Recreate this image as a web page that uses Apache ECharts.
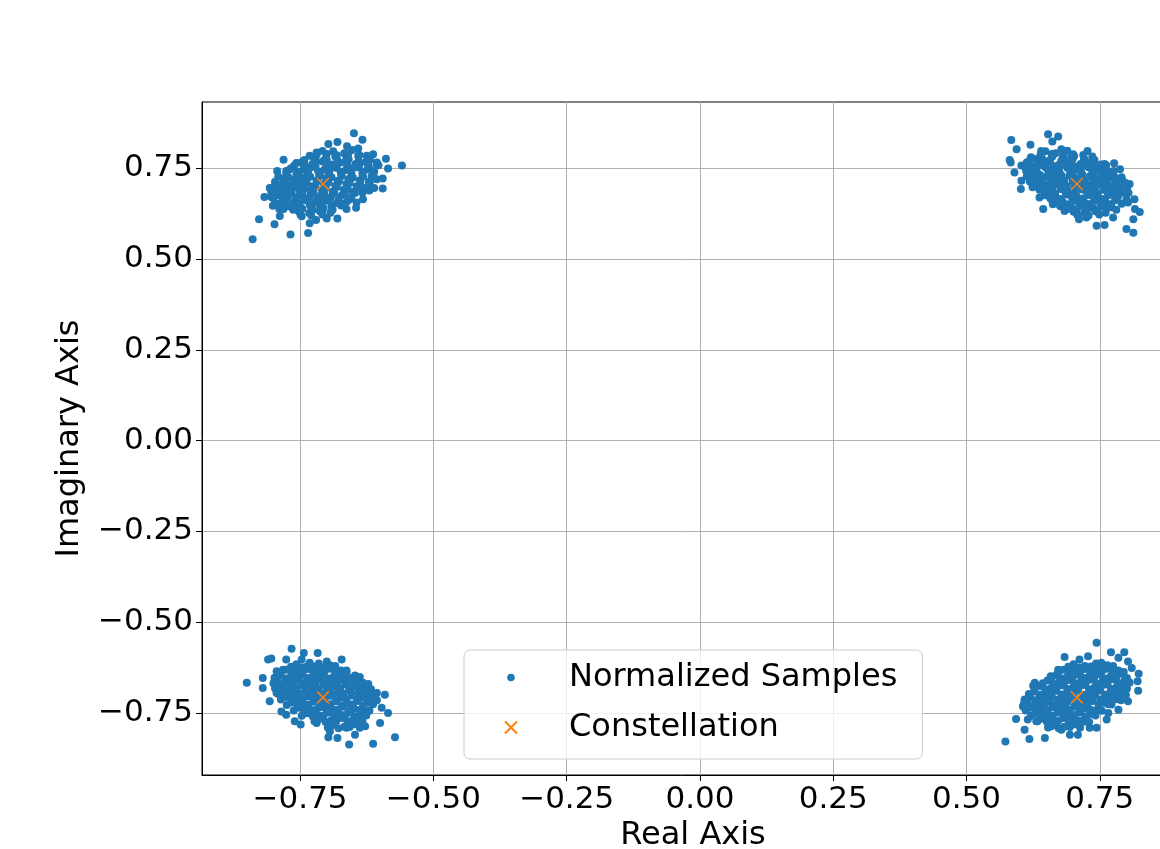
<!DOCTYPE html>
<html>
<head>
<meta charset="utf-8">
<script src="https://cdn.jsdelivr.net/npm/echarts@6/dist/echarts.min.js"></script>
<style>
  html, body { margin: 0; padding: 0; background: #fff; }
  #chart { width: 1160px; height: 849px; }
</style>
</head>
<body>
<div id="chart"></div>
<script>
// ideal QPSK points
const constellation = [[-0.7071, 0.7071], [0.7071, 0.7071], [-0.7071, -0.7071], [0.7071, -0.7071]];

// received samples (outer points first, then the dense core)
const topLeftSamples = [
  [-0.839,0.555],[-0.827,0.610],[-0.798,0.596],[-0.768,0.568],[-0.735,0.572],[-0.817,0.671],[-0.804,0.671],
  [-0.807,0.696],[-0.793,0.743],[-0.781,0.774],[-0.757,0.765],[-0.743,0.770],[-0.719,0.794],[-0.708,0.798],
  [-0.697,0.817],[-0.680,0.823],[-0.662,0.811],[-0.649,0.847],[-0.633,0.829],[-0.641,0.805],[-0.625,0.785],
  [-0.613,0.789],[-0.589,0.777],[-0.585,0.750],[-0.559,0.758],[-0.595,0.722],[-0.595,0.695],[-0.611,0.696],
  [-0.620,0.689],[-0.644,0.656],[-0.645,0.642],[-0.680,0.612],[-0.700,0.612],[-0.720,0.608],[-0.732,0.599],
  [-0.747,0.618],[-0.788,0.619],[-0.789,0.638],[-0.782,0.656],[-0.801,0.647],[-0.779,0.707],[-0.769,0.748],
  [-0.732,0.785],[-0.606,0.766],[-0.606,0.720],[-0.632,0.665],[-0.663,0.638],[-0.757,0.638],
  [-0.688,0.797],[-0.667,0.792],[-0.652,0.801],
  [-0.724,0.781],[-0.703,0.776],[-0.684,0.783],[-0.663,0.779],[-0.641,0.784],[-0.622,0.776],
  [-0.748,0.766],[-0.727,0.762],[-0.708,0.769],[-0.689,0.761],[-0.668,0.766],[-0.646,0.762],[-0.627,0.768],[-0.606,0.761],
  [-0.766,0.751],[-0.744,0.748],[-0.726,0.754],[-0.704,0.747],[-0.683,0.752],[-0.664,0.746],[-0.643,0.753],[-0.624,0.747],[-0.611,0.741],
  [-0.776,0.736],[-0.757,0.733],[-0.736,0.738],[-0.714,0.731],[-0.696,0.737],[-0.673,0.733],[-0.654,0.739],[-0.633,0.732],[-0.616,0.728],
  [-0.781,0.721],[-0.762,0.718],[-0.741,0.724],[-0.719,0.717],[-0.701,0.722],[-0.679,0.716],[-0.659,0.721],[-0.638,0.717],[-0.621,0.713],
  [-0.787,0.706],[-0.766,0.703],[-0.746,0.708],[-0.727,0.701],[-0.706,0.707],[-0.684,0.702],[-0.663,0.708],[-0.644,0.701],[-0.627,0.697],
  [-0.791,0.691],[-0.771,0.688],[-0.752,0.693],[-0.731,0.687],[-0.709,0.692],[-0.689,0.686],[-0.668,0.691],[-0.651,0.685],[-0.633,0.683],
  [-0.792,0.676],[-0.773,0.672],[-0.751,0.677],[-0.732,0.671],[-0.711,0.676],[-0.692,0.671],[-0.671,0.677],[-0.654,0.669],
  [-0.783,0.661],[-0.762,0.657],[-0.742,0.662],[-0.721,0.656],[-0.702,0.661],[-0.681,0.655],[-0.662,0.659],
  [-0.771,0.646],[-0.751,0.642],[-0.731,0.647],[-0.712,0.641],[-0.691,0.645],[-0.673,0.648],
  [-0.752,0.631],[-0.733,0.627],[-0.713,0.632],[-0.693,0.628],
  [-0.719,0.788],[-0.700,0.790],[-0.681,0.786],[-0.660,0.789],[-0.639,0.787],
  [-0.742,0.773],[-0.721,0.771],[-0.700,0.774],[-0.680,0.772],[-0.659,0.775],[-0.640,0.771],[-0.619,0.773],
  [-0.761,0.758],[-0.740,0.756],[-0.721,0.759],[-0.700,0.757],[-0.680,0.760],[-0.660,0.756],[-0.639,0.758],[-0.621,0.755],[-0.603,0.759],
  [-0.776,0.743],[-0.755,0.741],[-0.735,0.744],[-0.716,0.742],[-0.695,0.745],[-0.674,0.741],[-0.654,0.744],[-0.633,0.740],[-0.612,0.743],
  [-0.791,0.728],[-0.772,0.726],[-0.751,0.729],[-0.731,0.727],[-0.712,0.730],[-0.691,0.726],[-0.672,0.729],[-0.651,0.725],[-0.632,0.728],[-0.613,0.726],
  [-0.797,0.713],[-0.777,0.711],[-0.757,0.714],[-0.738,0.712],[-0.718,0.715],[-0.697,0.711],[-0.677,0.714],[-0.657,0.710],[-0.637,0.713],[-0.619,0.711],
  [-0.801,0.698],[-0.782,0.696],[-0.761,0.699],[-0.742,0.697],[-0.722,0.700],[-0.702,0.696],[-0.681,0.699],[-0.661,0.695],[-0.641,0.698],[-0.624,0.694],
  [-0.804,0.683],[-0.785,0.681],[-0.766,0.684],[-0.746,0.682],[-0.725,0.685],[-0.705,0.681],[-0.686,0.684],[-0.666,0.680],[-0.647,0.682],
  [-0.800,0.668],[-0.779,0.666],[-0.758,0.669],[-0.739,0.667],[-0.718,0.670],[-0.698,0.666],[-0.677,0.669],[-0.657,0.665],
  [-0.791,0.653],[-0.771,0.651],[-0.751,0.654],[-0.732,0.652],[-0.711,0.655],[-0.691,0.651],[-0.672,0.653],
  [-0.781,0.638],[-0.763,0.636],[-0.746,0.639],[-0.726,0.637],[-0.706,0.640],[-0.689,0.636],
  [-0.749,0.622],[-0.729,0.620],[-0.708,0.623]
];

const topRightSamples = [
  [0.584,0.828],[0.594,0.803],[0.620,0.815],[0.653,0.844],[0.672,0.838],[0.661,0.824],[0.581,0.773],
  [0.583,0.766],[0.590,0.739],[0.603,0.716],[0.602,0.693],[0.622,0.730],[0.615,0.762],[0.631,0.776],
  [0.644,0.638],[0.637,0.670],[0.662,0.651],[0.684,0.633],[0.711,0.610],[0.727,0.798],[0.736,0.783],
  [0.744,0.592],[0.759,0.594],[0.777,0.764],[0.788,0.748],[0.791,0.720],[0.806,0.707],[0.800,0.688],
  [0.815,0.665],[0.816,0.638],[0.825,0.630],[0.813,0.610],[0.800,0.583],[0.813,0.573],[0.775,0.615],
  [0.725,0.615],[0.697,0.642],[0.640,0.798],[0.678,0.803],[0.697,0.785],[0.759,0.762],[0.803,0.656],
  [0.648,0.797],[0.667,0.792],[0.689,0.799],
  [0.621,0.781],[0.642,0.777],[0.661,0.783],[0.683,0.778],[0.702,0.784],[0.721,0.776],
  [0.613,0.766],[0.634,0.762],[0.652,0.768],[0.674,0.761],[0.693,0.767],[0.714,0.762],[0.733,0.768],[0.752,0.761],
  [0.611,0.751],[0.628,0.747],[0.648,0.753],[0.667,0.746],[0.689,0.752],[0.708,0.747],[0.729,0.753],[0.747,0.746],[0.766,0.742],
  [0.619,0.736],[0.638,0.732],[0.659,0.738],[0.678,0.731],[0.699,0.737],[0.718,0.732],[0.739,0.738],[0.758,0.731],[0.777,0.728],
  [0.624,0.721],[0.643,0.717],[0.664,0.723],[0.683,0.716],[0.704,0.722],[0.723,0.717],[0.744,0.721],[0.763,0.716],[0.782,0.712],
  [0.629,0.706],[0.648,0.702],[0.669,0.708],[0.688,0.701],[0.709,0.707],[0.728,0.702],[0.749,0.706],[0.768,0.701],[0.787,0.698],
  [0.637,0.691],[0.656,0.687],[0.677,0.693],[0.696,0.686],[0.717,0.692],[0.736,0.687],[0.757,0.691],[0.776,0.686],[0.793,0.683],
  [0.648,0.676],[0.667,0.672],[0.688,0.678],[0.707,0.671],[0.728,0.677],[0.747,0.672],[0.766,0.676],[0.784,0.671],
  [0.661,0.661],[0.681,0.657],[0.702,0.662],[0.721,0.656],[0.742,0.661],[0.761,0.657],[0.779,0.662],
  [0.676,0.646],[0.697,0.642],[0.716,0.647],[0.737,0.641],[0.756,0.646],[0.772,0.643],
  [0.701,0.631],[0.721,0.627],[0.742,0.632],[0.761,0.628],
  [0.639,0.788],[0.660,0.790],[0.681,0.786],[0.700,0.789],[0.719,0.787],
  [0.619,0.773],[0.638,0.771],[0.657,0.774],[0.678,0.772],[0.699,0.775],[0.720,0.771],[0.740,0.773],
  [0.603,0.758],[0.623,0.756],[0.642,0.759],[0.663,0.757],[0.683,0.760],[0.702,0.756],[0.723,0.758],[0.743,0.755],[0.762,0.759],
  [0.612,0.743],[0.632,0.741],[0.653,0.744],[0.674,0.742],[0.694,0.745],[0.715,0.741],[0.736,0.744],[0.755,0.740],[0.776,0.743],
  [0.613,0.728],[0.632,0.726],[0.652,0.729],[0.672,0.727],[0.693,0.730],[0.713,0.726],[0.732,0.729],[0.752,0.725],[0.772,0.728],[0.791,0.726],
  [0.619,0.713],[0.638,0.711],[0.658,0.714],[0.678,0.712],[0.699,0.715],[0.718,0.711],[0.738,0.714],[0.758,0.710],[0.778,0.713],[0.797,0.711],
  [0.624,0.698],[0.643,0.696],[0.662,0.699],[0.682,0.697],[0.703,0.700],[0.723,0.696],[0.742,0.699],[0.762,0.695],[0.782,0.698],[0.801,0.694],
  [0.647,0.683],[0.666,0.681],[0.686,0.684],[0.705,0.682],[0.726,0.685],[0.746,0.681],[0.765,0.684],[0.785,0.680],[0.804,0.682],
  [0.657,0.668],[0.677,0.666],[0.698,0.669],[0.718,0.667],[0.739,0.670],[0.758,0.666],[0.779,0.669],[0.800,0.665],
  [0.672,0.653],[0.692,0.651],[0.711,0.654],[0.732,0.652],[0.751,0.655],[0.771,0.651],[0.791,0.653],
  [0.689,0.638],[0.707,0.636],[0.726,0.639],[0.746,0.637],[0.763,0.640],[0.781,0.636],
  [0.708,0.622],[0.729,0.620],[0.749,0.623]
];

const bottomLeftSamples = [
  [-0.850,-0.667],[-0.820,-0.681],[-0.807,-0.718],[-0.794,-0.695],[-0.804,-0.600],[-0.810,-0.603],[-0.766,-0.573],
  [-0.776,-0.603],[-0.743,-0.585],[-0.747,-0.603],[-0.717,-0.585],[-0.700,-0.608],[-0.672,-0.603],[-0.685,-0.626],
  [-0.663,-0.633],[-0.647,-0.655],[-0.628,-0.681],[-0.606,-0.695],[-0.591,-0.700],[-0.597,-0.736],[-0.585,-0.750],
  [-0.600,-0.778],[-0.628,-0.787],[-0.647,-0.810],[-0.572,-0.817],[-0.613,-0.835],[-0.658,-0.837],[-0.680,-0.819],
  [-0.697,-0.817],[-0.694,-0.801],[-0.719,-0.778],[-0.749,-0.782],[-0.760,-0.773],[-0.776,-0.755],[-0.785,-0.746],
  [-0.820,-0.654],[-0.794,-0.635],[-0.782,-0.631],[-0.732,-0.612],[-0.619,-0.718],[-0.632,-0.759],[-0.663,-0.791],
  [-0.757,-0.616],[-0.736,-0.621],[-0.715,-0.614],[-0.694,-0.619],
  [-0.776,-0.631],[-0.755,-0.636],[-0.735,-0.629],[-0.714,-0.634],[-0.694,-0.628],[-0.673,-0.633],
  [-0.789,-0.646],[-0.768,-0.651],[-0.748,-0.644],[-0.727,-0.649],[-0.707,-0.643],[-0.686,-0.648],[-0.666,-0.642],[-0.647,-0.647],
  [-0.793,-0.661],[-0.772,-0.666],[-0.752,-0.659],[-0.731,-0.664],[-0.711,-0.658],[-0.690,-0.663],[-0.670,-0.657],[-0.651,-0.662],[-0.632,-0.667],
  [-0.788,-0.676],[-0.767,-0.681],[-0.747,-0.674],[-0.726,-0.679],[-0.706,-0.673],[-0.685,-0.678],[-0.665,-0.672],[-0.646,-0.677],[-0.627,-0.683],
  [-0.781,-0.691],[-0.760,-0.696],[-0.740,-0.689],[-0.719,-0.694],[-0.699,-0.688],[-0.678,-0.693],[-0.658,-0.687],[-0.639,-0.692],[-0.620,-0.697],
  [-0.776,-0.706],[-0.755,-0.711],[-0.735,-0.704],[-0.714,-0.709],[-0.694,-0.703],[-0.673,-0.708],[-0.653,-0.702],[-0.634,-0.707],[-0.615,-0.712],
  [-0.765,-0.721],[-0.744,-0.726],[-0.724,-0.719],[-0.703,-0.724],[-0.683,-0.718],[-0.662,-0.723],[-0.642,-0.717],[-0.623,-0.722],
  [-0.752,-0.736],[-0.731,-0.741],[-0.711,-0.734],[-0.690,-0.739],[-0.670,-0.733],[-0.649,-0.738],[-0.629,-0.743],
  [-0.737,-0.751],[-0.716,-0.756],[-0.696,-0.749],[-0.675,-0.754],[-0.655,-0.748],[-0.636,-0.753],
  [-0.713,-0.766],[-0.692,-0.771],[-0.672,-0.764],[-0.651,-0.769],[-0.633,-0.774],
  [-0.688,-0.783],[-0.667,-0.788],[-0.648,-0.781],
  [-0.767,-0.623],[-0.746,-0.625],[-0.725,-0.622],[-0.704,-0.624],[-0.684,-0.621],
  [-0.786,-0.638],[-0.765,-0.640],[-0.745,-0.637],[-0.724,-0.639],[-0.704,-0.636],[-0.684,-0.640],[-0.663,-0.638],
  [-0.798,-0.653],[-0.778,-0.655],[-0.758,-0.652],[-0.737,-0.654],[-0.717,-0.651],[-0.697,-0.655],[-0.676,-0.652],[-0.657,-0.654],[-0.638,-0.651],
  [-0.800,-0.668],[-0.781,-0.670],[-0.762,-0.667],[-0.741,-0.669],[-0.721,-0.666],[-0.700,-0.670],[-0.680,-0.667],[-0.661,-0.669],[-0.641,-0.666],[-0.622,-0.670],
  [-0.797,-0.683],[-0.777,-0.685],[-0.757,-0.682],[-0.736,-0.684],[-0.716,-0.681],[-0.695,-0.685],[-0.675,-0.682],[-0.656,-0.684],[-0.636,-0.681],[-0.617,-0.685],
  [-0.791,-0.698],[-0.770,-0.700],[-0.750,-0.697],[-0.729,-0.699],[-0.709,-0.696],[-0.688,-0.700],[-0.668,-0.697],[-0.648,-0.699],[-0.629,-0.696],[-0.610,-0.700],
  [-0.786,-0.713],[-0.765,-0.715],[-0.745,-0.712],[-0.724,-0.714],[-0.704,-0.711],[-0.683,-0.715],[-0.663,-0.712],[-0.643,-0.714],[-0.624,-0.711],[-0.606,-0.715],
  [-0.775,-0.728],[-0.754,-0.730],[-0.734,-0.727],[-0.713,-0.729],[-0.693,-0.726],[-0.672,-0.730],[-0.652,-0.727],[-0.632,-0.729],[-0.613,-0.726],
  [-0.762,-0.743],[-0.741,-0.745],[-0.721,-0.742],[-0.700,-0.744],[-0.680,-0.741],[-0.659,-0.745],[-0.639,-0.742],[-0.620,-0.744],
  [-0.747,-0.758],[-0.726,-0.760],[-0.706,-0.757],[-0.685,-0.759],[-0.665,-0.756],[-0.645,-0.760],[-0.626,-0.757],
  [-0.723,-0.773],[-0.702,-0.775],[-0.682,-0.772],[-0.661,-0.774],[-0.642,-0.771],
  [-0.698,-0.790],[-0.678,-0.792],[-0.657,-0.789],[-0.638,-0.791]
];

const bottomRightSamples = [
  [0.573,-0.829],[0.593,-0.767],[0.609,-0.718],[0.606,-0.732],[0.609,-0.796],[0.618,-0.822],[0.625,-0.675],
  [0.647,-0.819],[0.658,-0.649],[0.672,-0.631],[0.684,-0.596],[0.712,-0.603],[0.728,-0.594],[0.744,-0.557],
  [0.771,-0.583],[0.796,-0.583],[0.785,-0.598],[0.803,-0.608],[0.810,-0.626],[0.823,-0.642],[0.821,-0.663],
  [0.822,-0.689],[0.803,-0.718],[0.785,-0.741],[0.763,-0.768],[0.744,-0.791],[0.731,-0.791],[0.709,-0.810],
  [0.694,-0.810],[0.678,-0.796],[0.659,-0.787],[0.633,-0.773],[0.615,-0.768],[0.628,-0.667],[0.647,-0.695],
  [0.766,-0.750],[0.803,-0.667],[0.753,-0.612],[0.700,-0.621],
  [0.701,-0.616],[0.722,-0.621],[0.743,-0.614],[0.764,-0.619],
  [0.682,-0.631],[0.703,-0.636],[0.723,-0.629],[0.744,-0.634],[0.764,-0.628],[0.785,-0.633],
  [0.668,-0.646],[0.689,-0.651],[0.709,-0.644],[0.730,-0.649],[0.750,-0.643],[0.771,-0.648],[0.791,-0.642],
  [0.652,-0.661],[0.673,-0.666],[0.693,-0.659],[0.714,-0.664],[0.734,-0.658],[0.755,-0.663],[0.775,-0.657],[0.796,-0.662],
  [0.638,-0.676],[0.659,-0.681],[0.679,-0.674],[0.700,-0.679],[0.720,-0.673],[0.741,-0.678],[0.761,-0.672],[0.782,-0.677],[0.801,-0.683],
  [0.627,-0.691],[0.648,-0.696],[0.668,-0.689],[0.689,-0.694],[0.709,-0.688],[0.730,-0.693],[0.750,-0.687],[0.771,-0.692],[0.790,-0.697],
  [0.619,-0.706],[0.640,-0.711],[0.660,-0.704],[0.681,-0.709],[0.701,-0.703],[0.722,-0.708],[0.742,-0.702],[0.763,-0.707],[0.781,-0.712],
  [0.614,-0.721],[0.635,-0.726],[0.655,-0.719],[0.676,-0.724],[0.696,-0.718],[0.717,-0.723],[0.737,-0.717],[0.758,-0.722],[0.772,-0.727],
  [0.621,-0.736],[0.642,-0.741],[0.662,-0.734],[0.683,-0.739],[0.703,-0.733],[0.724,-0.738],[0.744,-0.743],
  [0.631,-0.751],[0.652,-0.756],[0.672,-0.749],[0.693,-0.754],[0.713,-0.748],[0.732,-0.753],
  [0.641,-0.766],[0.662,-0.771],[0.682,-0.764],[0.703,-0.769],[0.720,-0.774],
  [0.663,-0.783],[0.684,-0.788],[0.704,-0.781],
  [0.691,-0.623],[0.712,-0.625],[0.733,-0.622],[0.754,-0.624],[0.775,-0.621],
  [0.672,-0.638],[0.692,-0.640],[0.713,-0.637],[0.734,-0.639],[0.754,-0.636],[0.775,-0.640],[0.795,-0.637],
  [0.659,-0.653],[0.679,-0.655],[0.699,-0.652],[0.720,-0.654],[0.740,-0.651],[0.761,-0.655],[0.781,-0.652],[0.801,-0.654],
  [0.643,-0.668],[0.663,-0.670],[0.683,-0.667],[0.704,-0.669],[0.724,-0.666],[0.745,-0.670],[0.765,-0.667],[0.786,-0.669],[0.806,-0.666],
  [0.628,-0.683],[0.648,-0.685],[0.669,-0.682],[0.689,-0.684],[0.710,-0.681],[0.730,-0.685],[0.751,-0.682],[0.771,-0.684],[0.792,-0.681],
  [0.617,-0.698],[0.637,-0.700],[0.658,-0.697],[0.678,-0.699],[0.699,-0.696],[0.719,-0.700],[0.740,-0.697],[0.760,-0.699],[0.780,-0.696],[0.799,-0.700],
  [0.609,-0.713],[0.629,-0.715],[0.650,-0.712],[0.670,-0.714],[0.691,-0.711],[0.711,-0.715],[0.732,-0.712],[0.752,-0.714],[0.772,-0.711],[0.790,-0.715],
  [0.607,-0.728],[0.625,-0.730],[0.645,-0.727],[0.666,-0.729],[0.686,-0.726],[0.707,-0.730],[0.727,-0.727],[0.748,-0.729],[0.766,-0.726],
  [0.611,-0.743],[0.631,-0.745],[0.652,-0.742],[0.672,-0.744],[0.693,-0.741],[0.713,-0.745],[0.734,-0.742],[0.754,-0.744],
  [0.621,-0.758],[0.641,-0.760],[0.662,-0.757],[0.682,-0.759],[0.703,-0.756],[0.723,-0.760],[0.742,-0.757],
  [0.631,-0.773],[0.651,-0.775],[0.672,-0.772],[0.692,-0.774],[0.711,-0.771],[0.730,-0.775],
  [0.653,-0.790],[0.673,-0.792],[0.694,-0.789],[0.713,-0.791]
];

const tickValues = [-0.75, -0.5, -0.25, 0, 0.25, 0.5, 0.75];

const samples = topLeftSamples.concat(topRightSamples, bottomLeftSamples, bottomRightSamples);

function fmt(v) {
    return (v < 0 ? '\u2212' : '') + Math.abs(v).toFixed(2);
}

const font = 'DejaVu Sans';

function makeAxis(name, min, max, gap) {
    return {
        type: 'value',
        min: min,
        max: max,
        name: name,
        nameLocation: 'middle',
        nameGap: gap,
        nameTextStyle: { fontSize: 32, fontFamily: font, color: '#000' },
        axisLine: { show: true, onZero: false, lineStyle: { color: '#000', width: 1 } },
        axisTick: { show: true, inside: false, length: 6, customValues: tickValues, lineStyle: { color: '#000', width: 1 } },
        axisLabel: { customValues: tickValues, formatter: fmt, fontSize: 31, fontFamily: font, color: '#000', margin: 9 },
        splitLine: { show: true, lineStyle: { color: '#b0b0b0', width: 1 } }
    };
}

const chart = echarts.init(document.getElementById('chart'));

const option = {
    animation: false,
    backgroundColor: '#fff',
    grid: {
        left: 202, top: 102, bottom: 74, right: -24,
        outerBoundsMode: 'none',
        containLabel: false,
        show: true, borderColor: '#000', borderWidth: 1, backgroundColor: 'transparent'
    },
    xAxis: makeAxis('Real Axis', -0.934, 0.908, 40),
    yAxis: makeAxis('Imaginary Axis', -0.921, 0.933, 116),
    legend: {
        orient: 'vertical',
        left: 464, top: 650,
        data: [
            { name: 'Normalized Samples', icon: 'path://M0,0M12,12M6,2.2A3.8,3.8,0,1,1,5.99,2.2Z' },
            { name: 'Constellation' }
        ],
        itemWidth: 12, itemHeight: 12, itemGap: 13,
        padding: [9, 25, 13, 40],
        backgroundColor: 'rgba(255,255,255,0.8)',
        borderColor: '#cccccc', borderWidth: 1, borderRadius: 6,
        textStyle: { fontSize: 32, fontFamily: font, color: '#000', lineHeight: 37, padding: [0, 0, 0, 47] }
    },
    series: [
        {
            name: 'Normalized Samples',
            type: 'scatter',
            symbol: 'circle',
            symbolSize: 8,
            data: samples,
            itemStyle: { color: '#1f77b4', opacity: 1 }
        },
        {
            name: 'Constellation',
            type: 'scatter',
            symbol: 'path://M0,0L10,10M10,0L0,10',
            symbolSize: 12,
            data: constellation,
            itemStyle: { color: 'rgba(0,0,0,0)', borderColor: '#ff7f0e', borderWidth: 1.5, opacity: 1 },
            z: 3
        }
    ]
};

chart.setOption(option);
</script>
</body>
</html>
